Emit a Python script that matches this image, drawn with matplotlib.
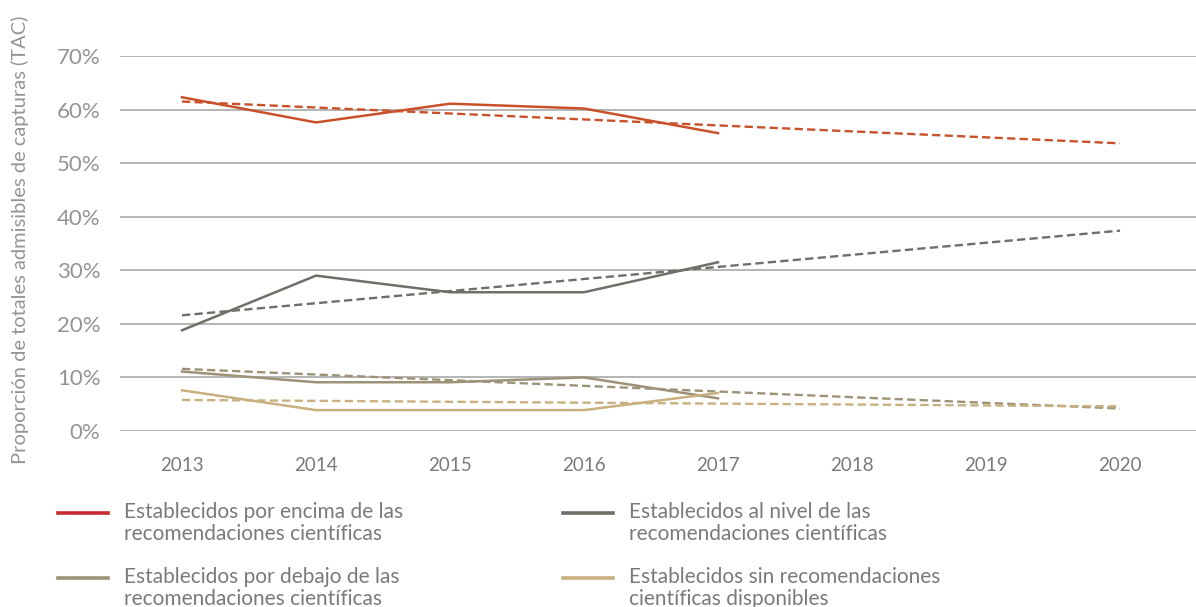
import matplotlib
matplotlib.use("Agg")
from matplotlib import pyplot as plt
from matplotlib.lines import Line2D

# valores (%)
years = [2013, 2014, 2015, 2016, 2017]
trend_years = [2013, 2020]
xticks = [2013, 2014, 2015, 2016, 2017, 2018, 2019, 2020]
yticks = [0, 10, 20, 30, 40, 50, 60, 70]

encima = [62.3, 57.6, 61.1, 60.2, 55.6]
al_nivel = [18.8, 29.0, 25.9, 25.9, 31.5]
debajo = [11.1, 9.1, 9.1, 10.0, 6.1]
sin_rec = [7.6, 3.9, 3.9, 3.9, 7.1]

encima_trend = [61.5, 53.7]
al_nivel_trend = [21.6, 37.4]
debajo_trend = [11.6, 4.2]
sin_rec_trend = [5.8, 4.6]

labels = [
    "Establecidos por encima de las\nrecomendaciones científicas",
    "Establecidos al nivel de las\nrecomendaciones científicas",
    "Establecidos por debajo de las\nrecomendaciones científicas",
    "Establecidos sin recomendaciones\ncientíficas disponibles",
]

colors = ["#c9512a", "#6f6e67", "#9d9277", "#c8b07f"]
legend_colors = ["#c62a2f", "#6f6e67", "#9d9277", "#c8b07f"]
series = [encima, al_nivel, debajo, sin_rec]
trends = [encima_trend, al_nivel_trend, debajo_trend, sin_rec_trend]

font = ["Lato", "DejaVu Sans"]

fig = plt.figure(figsize=(11.96, 6.07), dpi=100)
ax = fig.add_axes([120 / 1196, 176 / 607, 1076 / 1196, 375 / 607])

for vals, tr, c in zip(series, trends, colors):
    ax.plot(trend_years, tr, color=c, lw=1.7, dashes=(3.5, 1.8), zorder=3)
    ax.plot(years, vals, color=c, lw=1.8, zorder=4)

ax.set_xlim(2013 - 62 / 134, 2013 + 1014 / 134)
ax.set_ylim(0, 70)
ax.set_yticks(yticks)
ax.set_yticklabels([f"{v}%" for v in yticks], family=font, fontsize=16, color="#949494")
ax.set_xticks(xticks)
ax.set_xticklabels([str(x) for x in xticks], family=font, fontsize=13.5, color="#7a7a7a")
ax.tick_params(axis="both", length=0)
ax.tick_params(axis="y", pad=14)
ax.tick_params(axis="x", pad=19)
ax.grid(axis="y", color="#a8a8a8", lw=1.2)
ax.set_axisbelow(True)
for s in ax.spines.values():
    s.set_visible(False)

fig.text(20 / 1196, 1 - 240 / 607, "Proporción de totales admisibles de capturas (TAC)",
         rotation=90, ha="center", va="center", family=font, fontsize=14.5, color="#949494")

# leyenda manual en dos columnas
pos = [(58, 523), (563, 523), (58, 588), (563, 588)]
for (px, py), lab, c in zip(pos, labels, legend_colors):
    y = 1 - (py - 10) / 607
    fig.add_artist(Line2D([px / 1196, (px + 50) / 1196], [y, y], color=c, lw=2.6,
                          transform=fig.transFigure))
    fig.text((px + 66) / 1196, 1 - py / 607, lab, ha="left", va="center",
             family=font, fontsize=15, color="#7a7a7a", linespacing=1.1)

fig.savefig("out.png", dpi=100)
